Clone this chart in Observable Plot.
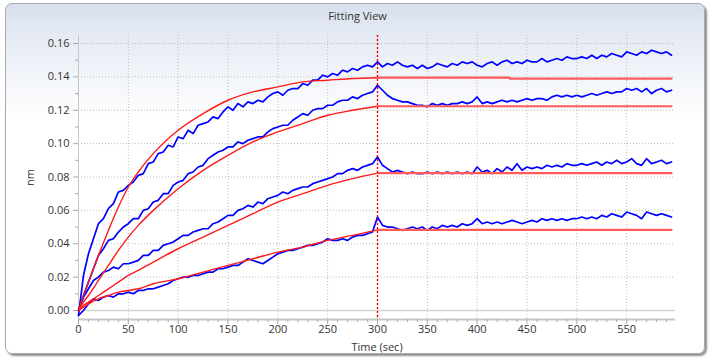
<!DOCTYPE html>
<html><head><meta charset="utf-8">
<script src="https://cdn.jsdelivr.net/npm/d3@7"></script>
<script src="https://cdn.jsdelivr.net/npm/@observablehq/plot@0.6"></script>
<style>
html,body{margin:0;padding:0;background:#fff;}
#wrap{position:relative;width:715px;height:362px;overflow:hidden;font-family:"Open Sans",sans-serif;}
#panel{position:absolute;left:5px;top:3px;width:698px;height:349px;border:1px solid #a9a9a9;border-radius:7px;background:linear-gradient(to bottom,#d8e0ee 0px,#e6ebf4 35px,#ffffff 115px);box-shadow:2px 2px 2px #8f8f8f;}
#title{position:absolute;left:0;width:715px;top:8px;text-align:center;font-size:11px;color:#333;}
#chart{position:absolute;left:0;top:0;}
</style></head>
<body>
<div id="wrap"><div id="panel"></div><div id="title">Fitting View</div><div id="chart"></div></div>
<script>
// ---- data ----
const titleText = "Fitting View";
const xLabel = "Time (sec)";
const yLabel = "nm";
const xTicks = [0, 50, 100, 150, 200, 250, 300, 350, 400, 450, 500, 550];
const yTicks = [0, 0.02, 0.04, 0.06, 0.08, 0.10, 0.12, 0.14, 0.16];
const stepTime = 300; // association/dissociation boundary

// measured traces, sampled every 5 s from 0 to 595 s
const traceTime = d3.range(0, 600, 5);
const traceA = [
 -0.003,0.021,0.034,0.043,0.052,0.055,0.061,0.064,0.071,0.072,
 0.075,0.077,0.081,0.082,0.088,0.089,0.094,0.095,0.099,0.098,
 0.104,0.103,0.108,0.106,0.111,0.112,0.113,0.116,0.115,0.119,
 0.122,0.120,0.124,0.122,0.125,0.124,0.126,0.125,0.128,0.130,
 0.131,0.129,0.132,0.133,0.133,0.136,0.135,0.138,0.138,0.141,
 0.140,0.142,0.141,0.144,0.143,0.145,0.144,0.146,0.147,0.146,
 0.149,0.146,0.148,0.147,0.149,0.147,0.146,0.147,0.145,0.147,
 0.145,0.146,0.148,0.147,0.146,0.148,0.147,0.149,0.148,0.149,
 0.147,0.146,0.148,0.149,0.147,0.149,0.150,0.148,0.149,0.148,
 0.150,0.149,0.149,0.151,0.149,0.150,0.151,0.150,0.152,0.151,
 0.151,0.152,0.151,0.153,0.151,0.153,0.152,0.154,0.153,0.152,
 0.155,0.154,0.153,0.155,0.154,0.156,0.155,0.154,0.155,0.153];
const traceB = [
 0.000,0.009,0.017,0.025,0.033,0.037,0.042,0.043,0.047,0.050,
 0.052,0.055,0.055,0.060,0.061,0.065,0.066,0.070,0.070,0.075,
 0.077,0.078,0.082,0.083,0.086,0.087,0.091,0.093,0.095,0.096,
 0.098,0.098,0.101,0.100,0.102,0.103,0.104,0.104,0.107,0.109,
 0.110,0.111,0.111,0.114,0.116,0.118,0.117,0.120,0.121,0.121,
 0.123,0.123,0.125,0.126,0.126,0.128,0.127,0.129,0.130,0.131,
 0.135,0.132,0.129,0.127,0.126,0.125,0.125,0.124,0.123,0.123,
 0.122,0.124,0.123,0.124,0.123,0.124,0.124,0.125,0.124,0.125,
 0.128,0.124,0.125,0.124,0.125,0.126,0.125,0.126,0.125,0.126,
 0.127,0.126,0.127,0.127,0.126,0.128,0.129,0.128,0.129,0.128,
 0.129,0.128,0.129,0.130,0.129,0.130,0.131,0.130,0.131,0.131,
 0.133,0.132,0.133,0.131,0.133,0.130,0.132,0.133,0.131,0.132];
const traceC = [
 0.000,0.008,0.013,0.018,0.020,0.023,0.024,0.026,0.025,0.028,
 0.028,0.029,0.030,0.033,0.033,0.036,0.036,0.039,0.040,0.041,
 0.043,0.045,0.045,0.047,0.048,0.049,0.049,0.052,0.053,0.055,
 0.057,0.057,0.060,0.061,0.063,0.062,0.065,0.064,0.067,0.068,
 0.069,0.071,0.070,0.072,0.073,0.074,0.074,0.076,0.077,0.078,
 0.079,0.080,0.082,0.082,0.084,0.085,0.084,0.086,0.087,0.088,
 0.092,0.087,0.085,0.083,0.084,0.083,0.082,0.083,0.082,0.082,
 0.083,0.082,0.083,0.082,0.083,0.082,0.083,0.082,0.083,0.082,
 0.086,0.083,0.084,0.082,0.085,0.083,0.086,0.084,0.088,0.084,
 0.086,0.085,0.086,0.085,0.087,0.086,0.087,0.086,0.088,0.087,
 0.087,0.088,0.087,0.088,0.089,0.087,0.089,0.088,0.090,0.088,
 0.089,0.091,0.088,0.087,0.091,0.088,0.089,0.090,0.088,0.089];
const traceD = [
 -0.003,0.000,0.004,0.007,0.006,0.008,0.009,0.008,0.010,0.010,
 0.011,0.010,0.012,0.012,0.013,0.013,0.014,0.015,0.016,0.018,
 0.019,0.020,0.020,0.021,0.021,0.022,0.023,0.023,0.025,0.025,
 0.026,0.027,0.027,0.029,0.031,0.030,0.029,0.028,0.030,0.032,
 0.034,0.035,0.036,0.036,0.037,0.038,0.039,0.039,0.040,0.041,
 0.043,0.042,0.042,0.043,0.042,0.044,0.045,0.045,0.046,0.047,
 0.056,0.051,0.050,0.050,0.049,0.048,0.049,0.050,0.049,0.050,
 0.048,0.050,0.049,0.051,0.050,0.051,0.050,0.052,0.051,0.052,
 0.055,0.052,0.053,0.052,0.053,0.052,0.053,0.054,0.053,0.052,
 0.053,0.054,0.053,0.055,0.054,0.055,0.054,0.055,0.054,0.055,
 0.055,0.056,0.055,0.056,0.055,0.057,0.056,0.058,0.057,0.056,
 0.059,0.058,0.057,0.055,0.059,0.058,0.057,0.058,0.057,0.056];

// fitted curves, association phase
const fitTime = [0, 5, 10, 20, 30, 40, 50, 60, 75, 100, 125, 150, 175, 200, 225, 250, 275, 300];
const fitA = [0.000,0.009,0.017,0.033,0.048,0.062,0.074,0.083,0.094,0.108,0.118,0.126,0.131,0.134,0.137,0.138,0.139,0.1395];
const fitB = [0.000,0.005,0.009,0.018,0.027,0.036,0.044,0.051,0.060,0.073,0.084,0.093,0.101,0.107,0.112,0.117,0.120,0.1224];
const fitC = [0.000,0.003,0.005,0.009,0.013,0.017,0.021,0.024,0.029,0.037,0.044,0.051,0.058,0.065,0.070,0.075,0.079,0.0823];
const fitD = [0.000,0.002,0.004,0.007,0.009,0.011,0.012,0.013,0.016,0.019,0.023,0.027,0.031,0.035,0.038,0.042,0.045,0.0483];
// fitted curves, dissociation phase
const dissTimeA = [300, 432, 433, 595];
const dissA = [0.1395, 0.1395, 0.1390, 0.1390];
const dissTime = [300, 595];
const dissB = [0.1224, 0.1224];
const dissC = [0.0823, 0.0823];
const dissD = [0.0483, 0.0483];

// ---- build tables ----
const traces = [["A", traceA], ["B", traceB], ["C", traceC], ["D", traceD]]
  .flatMap(([s, vals]) => vals.map((v, i) => ({s, t: traceTime[i], v})));
const fits = [["A", fitA], ["B", fitB], ["C", fitC], ["D", fitD]]
  .flatMap(([s, vals]) => vals.map((v, i) => ({s, t: fitTime[i], v})));
const diss = [
  ...dissA.map((v, i) => ({s: "A", t: dissTimeA[i], v})),
  ...[["B", dissB], ["C", dissC], ["D", dissD]].flatMap(([s, vals]) => vals.map((v, i) => ({s, t: dissTime[i], v})))
];

const yMin = -0.0054, yMax = 0.1648;
const xMinor = d3.range(0, 600, 10).filter(d => d % 50 !== 0);
const yMinor = d3.range(0.01, 0.17, 0.02);
const grid = {stroke: "#bdbdbd", strokeOpacity: 1, strokeDasharray: "1,2"};

const chart = Plot.plot({
  width: 715, height: 362,
  marginLeft: 78, marginRight: 40, marginTop: 35, marginBottom: 43,
  style: {background: "transparent", fontFamily: "Open Sans, sans-serif", fontSize: "11px", color: "#333"},
  x: {domain: [0, 599]},
  y: {domain: [yMin, yMax]},
  marks: [
    Plot.gridX(xTicks.filter(d => d > 0), grid),
    Plot.gridY(yTicks.filter(d => d > 0), grid),
    Plot.ruleY([0], {stroke: "#d2d2d2", strokeWidth: 1.5}),
    Plot.ruleY([yMin], {stroke: "#c6c6c6", strokeWidth: 2}),
    Plot.ruleX([0], {stroke: "#c6c6c6", strokeWidth: 1}),
    Plot.axisY(yTicks, {tickSize: 5, tickPadding: 4, stroke: "#a8a8a8", tickFormat: d3.format(".2f"),
      label: yLabel, labelAnchor: "center", labelOffset: 52, labelArrow: "none"}),
    Plot.axisY(yMinor, {tickSize: 3, stroke: "#a8a8a8", tickFormat: () => "", label: null}),
    Plot.axisX(xTicks, {tickSize: 5, tickPadding: 1, stroke: "#a8a8a8",
      label: xLabel, labelAnchor: "center", labelOffset: 31, labelArrow: "none"}),
    Plot.axisX(xMinor, {tickSize: 3, stroke: "#a8a8a8", tickFormat: () => "", label: null}),
    Plot.line(traces, {x: "t", y: "v", z: "s", stroke: "#0000ff", strokeWidth: 1.7}),
    Plot.line(fits, {x: "t", y: "v", z: "s", stroke: "#ff1a1a", strokeWidth: 1.4, curve: "monotone-x"}),
    Plot.line(diss, {x: "t", y: "v", z: "s", stroke: "#ff5a5a", strokeWidth: 2.2}),
    Plot.ruleX([stepTime], {stroke: "#ff0000", strokeWidth: 1.4, strokeDasharray: "2,2"})
  ]
});
document.getElementById("chart").append(chart);
document.getElementById("title").textContent = titleText;
</script>
</body></html>
